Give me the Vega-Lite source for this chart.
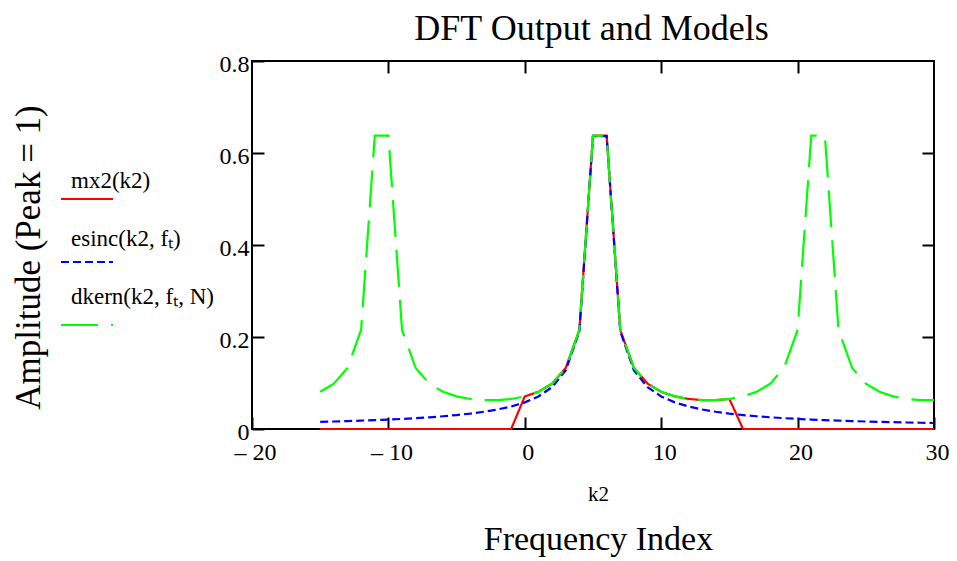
{
  "$schema": "https://vega.github.io/schema/vega-lite/v6.json",
  "width": 682,
  "height": 368,
  "autosize": {"type": "none"},
  "padding": {"left": 252, "top": 61, "right": 23, "bottom": 132},
  "background": "white",
  "config": {
    "font": "Liberation Serif",
    "view": {"stroke": "black", "strokeWidth": 2},
    "axis": {"grid": false, "domain": false, "labelOverlap": false}
  },
  "data": {
    "values": [
      {"k": -15, "mx2": 0, "esinc": 0.01553, "dkern": 0.08085},
      {"k": -14, "mx2": 0, "esinc": 0.01632, "dkern": 0.09852},
      {"k": -13, "mx2": 0, "esinc": 0.01721, "dkern": 0.13259},
      {"k": -12, "mx2": 0, "esinc": 0.01819, "dkern": 0.21531},
      {"k": -11, "mx2": 0, "esinc": 0.01929, "dkern": 0.63764},
      {"k": -10, "mx2": 0, "esinc": 0.02054, "dkern": 0.63764},
      {"k": -9, "mx2": 0, "esinc": 0.02195, "dkern": 0.21531},
      {"k": -8, "mx2": 0, "esinc": 0.02358, "dkern": 0.13259},
      {"k": -7, "mx2": 0, "esinc": 0.02546, "dkern": 0.09852},
      {"k": -6, "mx2": 0, "esinc": 0.02768, "dkern": 0.08085},
      {"k": -5, "mx2": 0, "esinc": 0.03032, "dkern": 0.07087},
      {"k": -4, "mx2": 0, "esinc": 0.03351, "dkern": 0.06531},
      {"k": -3, "mx2": 0, "esinc": 0.03745, "dkern": 0.0628},
      {"k": -2, "mx2": 0, "esinc": 0.04244, "dkern": 0.0628},
      {"k": -1, "mx2": 0, "esinc": 0.04897, "dkern": 0.06531},
      {"k": 0, "mx2": 0.07087, "esinc": 0.05787, "dkern": 0.07087},
      {"k": 1, "mx2": 0.08085, "esinc": 0.07074, "dkern": 0.08085},
      {"k": 2, "mx2": 0.09852, "esinc": 0.09095, "dkern": 0.09852},
      {"k": 3, "mx2": 0.13259, "esinc": 0.12732, "dkern": 0.13259},
      {"k": 4, "mx2": 0.21531, "esinc": 0.21221, "dkern": 0.21531},
      {"k": 5, "mx2": 0.63764, "esinc": 0.63662, "dkern": 0.63764},
      {"k": 6, "mx2": 0.63764, "esinc": 0.63662, "dkern": 0.63764},
      {"k": 7, "mx2": 0.21531, "esinc": 0.21221, "dkern": 0.21531},
      {"k": 8, "mx2": 0.13259, "esinc": 0.12732, "dkern": 0.13259},
      {"k": 9, "mx2": 0.09852, "esinc": 0.09095, "dkern": 0.09852},
      {"k": 10, "mx2": 0.08085, "esinc": 0.07074, "dkern": 0.08085},
      {"k": 11, "mx2": 0.07087, "esinc": 0.05787, "dkern": 0.07087},
      {"k": 12, "mx2": 0.06531, "esinc": 0.04897, "dkern": 0.06531},
      {"k": 13, "mx2": 0.0628, "esinc": 0.04244, "dkern": 0.0628},
      {"k": 14, "mx2": 0.0628, "esinc": 0.03745, "dkern": 0.0628},
      {"k": 15, "mx2": 0.06531, "esinc": 0.03351, "dkern": 0.06531},
      {"k": 16, "mx2": 0, "esinc": 0.03032, "dkern": 0.07087},
      {"k": 17, "mx2": 0, "esinc": 0.02768, "dkern": 0.08085},
      {"k": 18, "mx2": 0, "esinc": 0.02546, "dkern": 0.09852},
      {"k": 19, "mx2": 0, "esinc": 0.02358, "dkern": 0.13259},
      {"k": 20, "mx2": 0, "esinc": 0.02195, "dkern": 0.21531},
      {"k": 21, "mx2": 0, "esinc": 0.02054, "dkern": 0.63764},
      {"k": 22, "mx2": 0, "esinc": 0.01929, "dkern": 0.63764},
      {"k": 23, "mx2": 0, "esinc": 0.01819, "dkern": 0.21531},
      {"k": 24, "mx2": 0, "esinc": 0.01721, "dkern": 0.13259},
      {"k": 25, "mx2": 0, "esinc": 0.01632, "dkern": 0.09852},
      {"k": 26, "mx2": 0, "esinc": 0.01553, "dkern": 0.08085},
      {"k": 27, "mx2": 0, "esinc": 0.0148, "dkern": 0.07087},
      {"k": 28, "mx2": 0, "esinc": 0.01415, "dkern": 0.06531},
      {"k": 29, "mx2": 0, "esinc": 0.01355, "dkern": 0.0628},
      {"k": 30, "mx2": 0, "esinc": 0.01299, "dkern": 0.0628}
    ]
  },
  "transform": [{"fold": ["mx2", "esinc", "dkern"], "as": ["s", "v"]}],
  "layer": [
    {
      "mark": {"type": "line"},
      "encoding": {
        "x": {
          "field": "k", "type": "quantitative",
          "scale": {"domain": [-20, 30], "nice": false, "zero": false},
          "axis": {
            "orient": "bottom",
            "values": [-20, -10, 0, 10, 20, 30],
            "tickSize": -12, "tickWidth": 2, "tickColor": "black",
            "labelFont": "Liberation Serif", "labelFontSize": 24, "labelColor": "black",
            "labelPadding": 23, "labelFlush": false, "labelOffset": 3,
            "labelExpr": "datum.value < 0 ? '– ' + format(-datum.value, 'd') : format(datum.value, 'd')",
            "title": "k2", "titleFont": "Liberation Serif", "titleFontSize": 21, "titleFontWeight": "normal",
            "titleColor": "black", "titleBaseline": "alphabetic", "titleAlign": "center",
            "titleX": 346, "titleY": 71
          }
        },
        "y": {
          "field": "v", "type": "quantitative",
          "scale": {"domain": [0, 0.8], "nice": false},
          "axis": {
            "orient": "left",
            "values": [0, 0.2, 0.4, 0.6, 0.8],
            "tickSize": -12, "tickWidth": 2, "tickColor": "black",
            "labelFont": "Liberation Serif", "labelFontSize": 24, "labelColor": "black",
            "labelPadding": 15, "labelFlush": false, "labelOffset": 3,
            "labelExpr": "datum.value == 0 ? '0' : format(datum.value, '.1f')",
            "title": "Amplitude (Peak = 1)", "titleFont": "Liberation Serif", "titleFontSize": 35,
            "titleFontWeight": "normal", "titleColor": "black", "titleBaseline": "alphabetic",
            "titleAlign": "center", "titleAngle": -90, "titleX": -213, "titleY": 196
          }
        },
        "color": {
          "field": "s", "type": "nominal",
          "scale": {"domain": ["mx2", "esinc", "dkern"], "range": ["#ff0000", "#0000ff", "#00ff00"]},
          "legend": {
            "title": null, "orient": "none", "legendX": -192, "legendY": 111,
            "symbolType": "stroke", "symbolSize": 2704, "symbolStrokeWidth": 2,
            "labelFont": "Liberation Serif", "labelFontSize": 23, "labelColor": "transparent",
            "labelOffset": -44, "labelBaseline": "alphabetic", "rowPadding": 31, "padding": 0,
            "labelExpr": "''"
          }
        },
        "strokeDash": {
          "field": "s", "type": "nominal",
          "scale": {"domain": ["mx2", "esinc", "dkern"], "range": [[1, 0], [8, 4], [37, 13]]}
        },
        "strokeWidth": {
          "field": "s", "type": "nominal",
          "sort": ["mx2", "esinc", "dkern"],
          "scale": {"range": [2.2, 2.2, 2.2]},
          "legend": {
            "title": null, "orient": "none", "legendX": -192, "legendY": 99,
            "symbolType": "stroke", "symbolSize": 2704, "symbolStrokeWidth": 2,
            "symbolOpacity": 0, "symbolStrokeColor": "transparent",
            "labelFont": "Liberation Serif", "labelFontSize": 23, "labelColor": "black",
            "labelOffset": -44, "labelBaseline": "alphabetic", "rowPadding": 25, "padding": 0,
            "labelExpr": "datum.label == 'mx2' ? 'mx2(k2)' : datum.label == 'esinc' ? 'esinc(k2, fₜ)' : 'dkern(k2, fₜ, N)'"
          }
        }
      }
    },
    {
      "mark": {"type": "line", "opacity": 0},
      "encoding": {
        "x": {
          "field": "k", "type": "quantitative",
          "axis": {
            "orient": "top", "values": [-10, 0, 10, 20],
            "tickSize": -12, "tickWidth": 2, "tickColor": "black",
            "labels": false,
            "title": "DFT Output and Models", "titleFont": "Liberation Serif", "titleFontSize": 36,
            "titleFontWeight": "normal", "titleColor": "black", "titleBaseline": "alphabetic",
            "titleAlign": "center", "titleX": 339, "titleY": -22
          }
        },
        "y": {
          "field": "v", "type": "quantitative",
          "axis": {
            "orient": "right", "values": [0.2, 0.4, 0.6],
            "tickSize": -12, "tickWidth": 2, "tickColor": "black",
            "labels": false, "title": null
          }
        }
      }
    },
    {
      "mark": {"type": "line", "opacity": 0},
      "encoding": {
        "x": {
          "field": "k", "type": "quantitative",
          "axis": {
            "orient": "bottom", "ticks": false, "labels": false,
            "title": "Frequency Index", "titleFont": "Liberation Serif", "titleFontSize": 34,
            "titleFontWeight": "normal", "titleColor": "black", "titleBaseline": "alphabetic",
            "titleAlign": "center", "titleX": 346, "titleY": 120
          }
        },
        "y": {"field": "v", "type": "quantitative", "axis": null}
      }
    }
  ],
  "resolve": {"axis": {"x": "independent", "y": "independent"}}
}
